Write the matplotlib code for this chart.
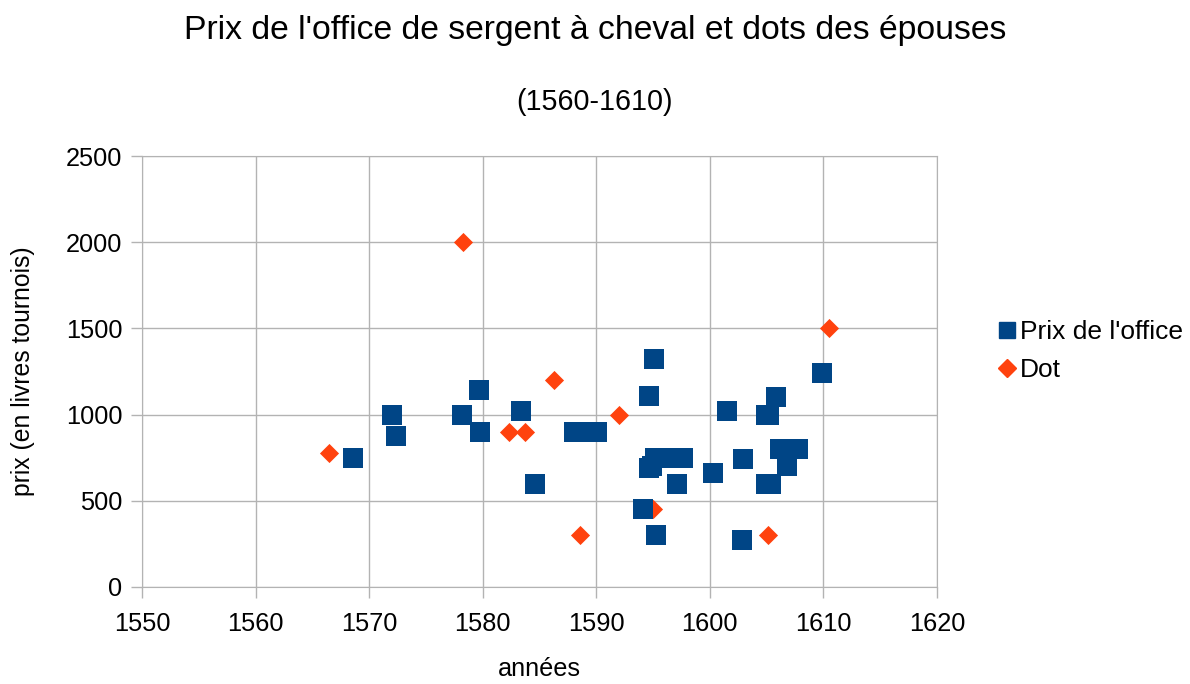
import matplotlib.pyplot as plt
from matplotlib.lines import Line2D

plt.rcParams['font.family'] = ['Liberation Sans', 'DejaVu Sans']

# Prix de l'office (années, livres tournois)
office_annees = [1568.6, 1572.0, 1572.4, 1578.2, 1579.7, 1579.8, 1583.4, 1584.6,
                 1588.0, 1589.0, 1590.1, 1594.1, 1594.6, 1594.6, 1594.9, 1595.1,
                 1595.2, 1595.3, 1596.2, 1596.9, 1597.1, 1597.6, 1600.3, 1601.5,
                 1602.8, 1602.9, 1604.9, 1604.9, 1605.2, 1605.4, 1605.8, 1606.2,
                 1606.8, 1607.8, 1609.9]
office_prix = [750, 1000, 875, 1000, 1140, 900, 1020, 600,
               900, 900, 900, 450, 1110, 690, 700, 1320,
               750, 300, 750, 750, 600, 750, 660, 1020,
               270, 740, 1000, 600, 1000, 600, 1100, 800,
               700, 800, 1240]

# Dots des épouses
dot_annees = [1566.5, 1578.3, 1582.3, 1583.7, 1586.3, 1588.6, 1592.0, 1595.0,
              1605.1, 1610.5]
dot_prix = [780, 2000, 900, 900, 1200, 300, 1000, 450, 300, 1500]

bleu = '#004586'
orange = '#ff420e'
gris = '#b3b3b3'

fig = plt.figure(figsize=(11.9, 6.84), dpi=100)
ax = fig.add_axes([142 / 1190, 1 - 587 / 684, (937 - 142) / 1190, (587 - 156) / 684])

ax.scatter(dot_annees, dot_prix, marker='D', s=95, color=orange, linewidths=0, zorder=3)
ax.scatter(office_annees, office_prix, marker='s', s=200, color=bleu, linewidths=0, zorder=4)

ax.set_xlim(1550, 1620)
ax.set_ylim(0, 2500)
ax.set_xticks(range(1550, 1621, 10))
ax.set_yticks(range(0, 2501, 500))
ax.grid(True, color=gris, linewidth=1)
ax.set_axisbelow(True)
for s in ax.spines.values():
    s.set_color(gris)
ax.tick_params(colors=gris, labelcolor='black', labelsize=18.3, length=8, width=1, pad=6)
ax.tick_params(axis='x', pad=10)

ax.set_xlabel('années', fontsize=18.2, labelpad=15)
ax.set_ylabel('prix (en livres tournois)', fontsize=17.8, labelpad=22)

fig.text(0.5, 1 - 31 / 684, "Prix de l'office de sergent à cheval et dots des épouses",
         ha='center', va='center', fontsize=24.3)
fig.text(0.5, 1 - 102 / 684, '(1560-1610)', ha='center', va='center', fontsize=20.7)

handles = [Line2D([], [], marker='s', linestyle='none', color=bleu, markersize=12),
           Line2D([], [], marker='D', linestyle='none', color=orange, markersize=9)]
fig.legend(handles, ["Prix de l'office", 'Dot'], loc='center left',
           bbox_to_anchor=(983 / 1190, 1 - 351 / 684), frameon=False, fontsize=19,
           handletextpad=0.0, handlelength=1.0, labelspacing=0.55, borderaxespad=0)

fig.savefig('out.png', dpi=100)
